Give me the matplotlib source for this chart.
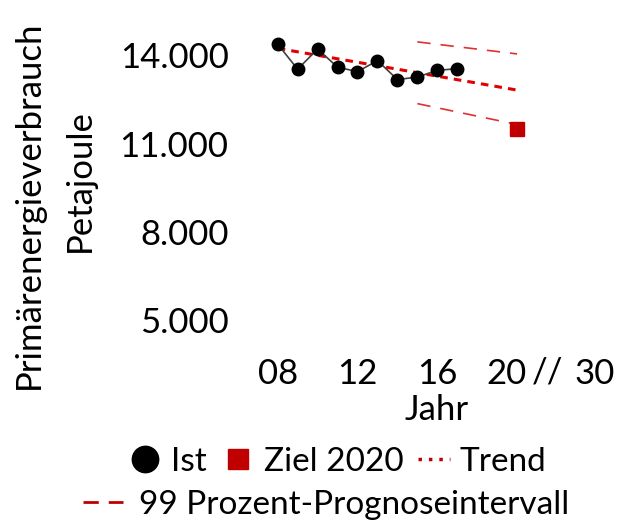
import matplotlib
matplotlib.use("Agg")
import matplotlib.pyplot as plt
from matplotlib.lines import Line2D

plt.rcParams['font.family'] = ['Lato', 'DejaVu Sans']

years = [2008, 2009, 2010, 2011, 2012, 2013, 2014, 2015, 2016, 2017]
ist = [14380, 13531, 14217, 13599, 13447, 13822, 13180, 13262, 13491, 13550]
ziel_year = [2020]
ziel = [11504]
trend_years = [2008, 2020]
trend = [14240, 12820]
pi_years = [2015, 2020]
pi_upper = [14460, 14050]
pi_lower = [12360, 11650]
xtick_pos = [2008, 2012, 2016, 2019.45, 2023.9]
xtick_labels = ['08', '12', '16', '20', '30']
ytick_pos = [5000, 8000, 11000, 14000]
ytick_labels = ['5.000', '8.000', '11.000', '14.000']

red = '#C00000'
FS = 25
W, H = 622, 523
fig = plt.figure(figsize=(6.22, 5.23), dpi=100)
ax = fig.add_axes([257.75 / W, (H - 349.4) / H, 349.1 / W, 323.4 / H])

ax.plot(years, ist, color='#404040', lw=1.2, marker='o', ms=9,
        mfc='black', mec='black', zorder=3)
ax.plot(trend_years, trend, color='#E00000', lw=2.2, ls=(0, (2.5, 2)), zorder=2)
ax.plot(pi_years, pi_upper, color='#E03030', lw=1.2, ls=(0, (8, 6)), zorder=2)
ax.plot(pi_years, pi_lower, color='#E03030', lw=1.2, ls=(0, (8, 6)), zorder=2)
ax.plot(ziel_year, ziel, marker='s', ms=10, color=red, ls='none', zorder=4)

ax.set_xlim(2007, 2024.5)
ax.set_ylim(4000, 15000)
ax.set_xticks(xtick_pos)
ax.set_xticklabels(xtick_labels, fontsize=FS)
ax.set_yticks(ytick_pos)
ax.set_yticklabels(ytick_labels, fontsize=FS)
ax.tick_params(length=0)
ax.tick_params(axis='y', pad=21)
ax.tick_params(axis='x', pad=6)
for s in ax.spines.values():
    s.set_visible(False)

fig.text(548 / W, 1 - 372 / H, '//', fontsize=FS, ha='center', va='center')
fig.text(437 / W, 1 - 410 / H, 'Jahr', fontsize=FS, ha='center', va='center')
fig.text(80 / W, 1 - 181 / H, 'Petajoule', fontsize=FS, ha='center', va='center', rotation=90)
fig.text(29 / W, 1 - 205 / H, 'Primärenergieverbrauch', fontsize=FS, ha='center', va='center', rotation=90)

h1 = [Line2D([], [], marker='o', color='black', ls='none', ms=19),
      Line2D([], [], marker='s', color=red, ls='none', ms=15),
      Line2D([], [], color=red, ls=(0, (1, 2)), lw=2.5)]
fig.legend(h1, ['Ist', 'Ziel 2020', 'Trend'], loc='center',
           bbox_to_anchor=(338 / W, 1 - 462 / H), ncol=3, frameon=False,
           fontsize=24, handlelength=0.95, handletextpad=0.3, columnspacing=0.45,
           borderpad=0)
h2 = [Line2D([], [], color=red, ls=(0, (5.5, 3.6)), lw=2)]
fig.legend(h2, ['99 Prozent-Prognoseintervall'], loc='center',
           bbox_to_anchor=(326 / W, 1 - 505 / H), frameon=False,
           fontsize=24, handlelength=1.2, handletextpad=0.5, borderpad=0)

fig.savefig('out.png', dpi=100)
